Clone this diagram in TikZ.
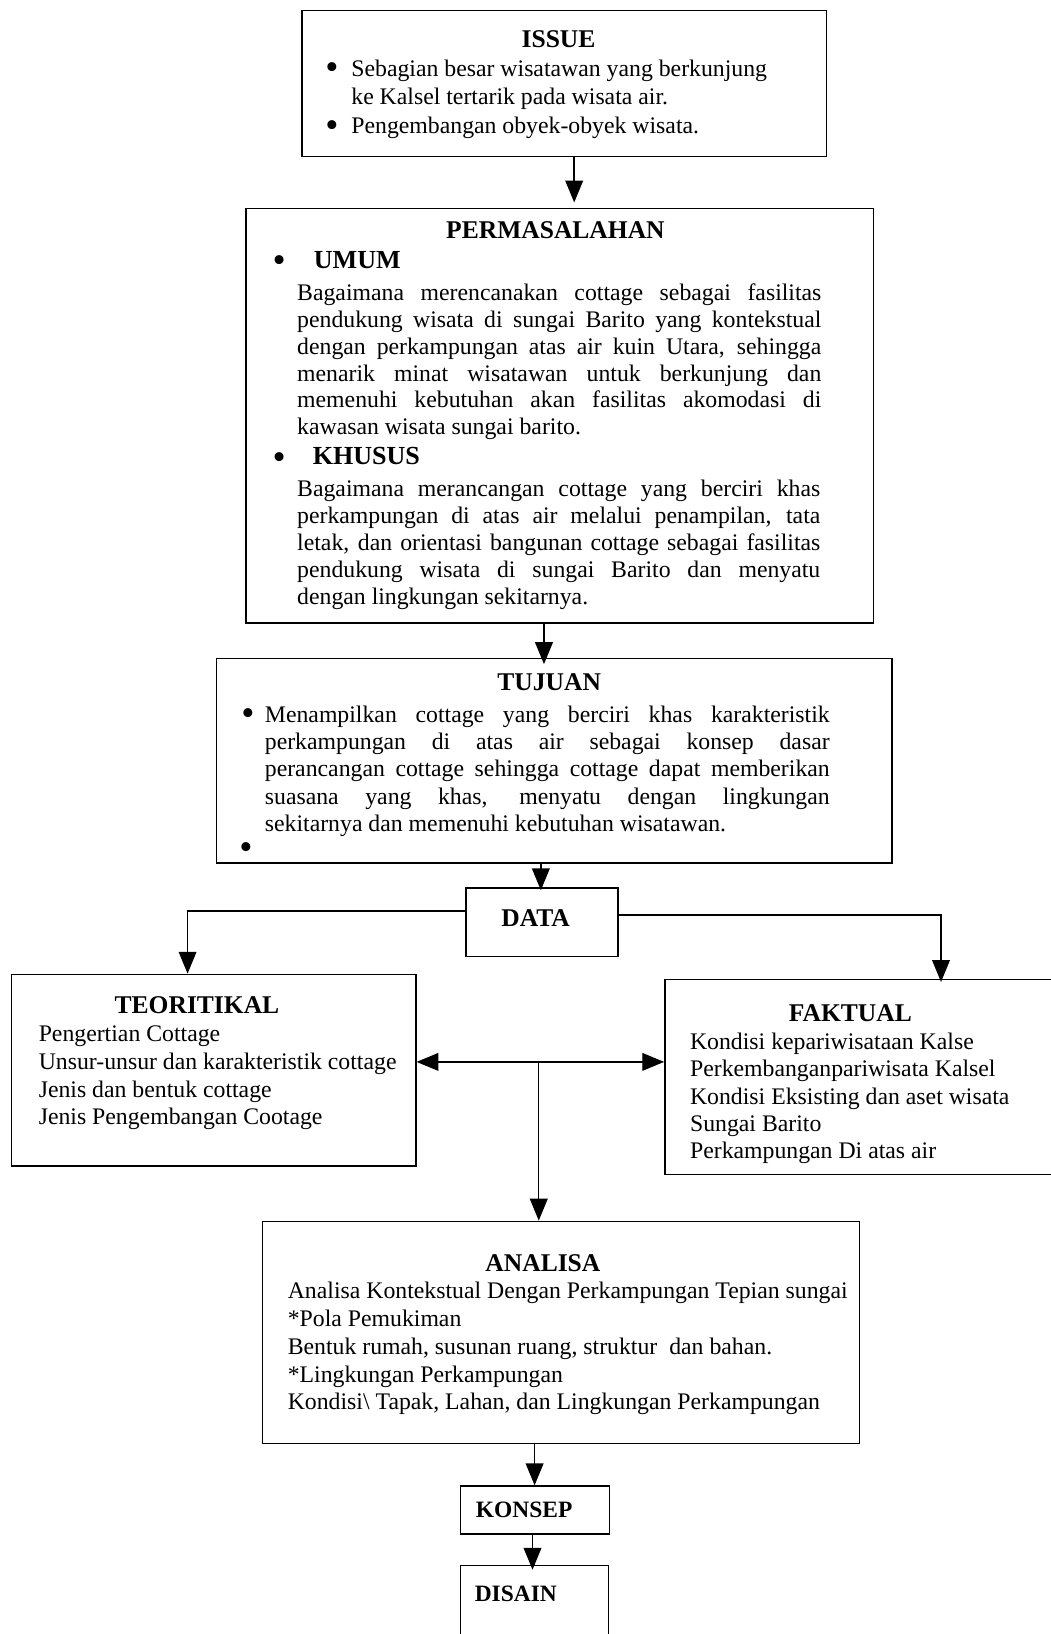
\documentclass[tikz,border=0pt]{standalone}
\usepackage{fontspec}
\setmainfont{Liberation Serif}
\usetikzlibrary{arrows.meta,positioning}
\newcommand{\jline}[2]{\makebox[#1][s]{#2}}
\newcommand{\bdot}{\raisebox{-3.5pt}{\fontsize{36}{26}\selectfont\textbullet}}
\tikzset{
  flowbox/.style={draw,line width=1.4pt,rectangle,inner sep=0pt},
  boxtitle/.style={font=\fontsize{24.5}{28}\selectfont\bfseries,inner sep=0pt},
  smalltitle/.style={font=\fontsize{22.5}{26}\selectfont\bfseries,inner sep=0pt},
  subtitle/.style={font=\fontsize{25}{28}\selectfont\bfseries,inner sep=0pt,anchor=west},
  boxtext/.style={font=\fontsize{22.8}{26.3}\selectfont,align=left,inner sep=0pt,anchor=north west},
  dotmark/.style={font=\fontsize{22}{26}\selectfont,inner sep=0pt},
  flowarrow/.style={-{Triangle[length=21pt,width=17pt]},line width=1.4pt},
  dblarrow/.style={{Triangle[length=21pt,width=17pt]}-{Triangle[length=21pt,width=17pt]},line width=1.4pt}
}

\begin{document}
\begin{tikzpicture}[x=1pt,y=-1pt]
\useasboundingbox (0,0) rectangle (1008,1568);
% boxes
\node[flowbox,minimum width=503pt,minimum height=140pt] (issue) at (541.5,80) {};
\node[flowbox,minimum width=602pt,minimum height=398pt] (perm) at (537,399) {};
\node[flowbox,minimum width=648pt,minimum height=196pt] (tujuan) at (532,730) {};
\node[flowbox,minimum width=146pt,minimum height=66pt] (data) at (520,885) {};
\node[flowbox,minimum width=388pt,minimum height=184pt] (teori) at (205,1027) {};
\node[flowbox,minimum width=387pt,minimum height=187pt] (fakta) at (831.5,1033.5) {};
\node[flowbox,minimum width=573pt,minimum height=213pt] (analisa) at (538.5,1278.5) {};
\node[flowbox,minimum width=143pt,minimum height=46pt] (konsep) at (513.5,1449) {};
\node[flowbox,minimum width=142pt,minimum height=98pt] (disain) at (513,1551) {};

% issue
\node[boxtitle] (issuet) at (536,38) {ISSUE};
\node[boxtext,font=\fontsize{22.8}{27.5}\selectfont] (issueb) at (312,57)
  {\makebox[25pt][l]{\bdot}Sebagian besar wisatawan yang berkunjung\\
   \hspace*{25pt}ke Kalsel tertarik pada wisata air.\\
   \makebox[25pt][l]{\bdot}Pengembangan obyek-obyek wisata.};

% permasalahan
\node[boxtitle] (permt) at (533,221) {PERMASALAHAN};
\node[dotmark] (umumd) at (268,253) {\bdot};
\node[subtitle] (umum) at (301,250) {UMUM};
\node[boxtext,font=\fontsize{22.8}{25.8}\selectfont] (umumb) at (285,272)
  {\jline{503pt}{Bagaimana merencanakan cottage sebagai fasilitas}\\
   \jline{503pt}{pendukung wisata di sungai Barito yang kontekstual}\\
   \jline{503pt}{dengan perkampungan atas air kuin Utara, sehingga}\\
   \jline{503pt}{menarik minat wisatawan untuk berkunjung dan}\\
   \jline{503pt}{memenuhi kebutuhan akan fasilitas akomodasi di}\\
   kawasan wisata sungai barito.};
\node[dotmark] (khususd) at (268,442) {\bdot};
\node[subtitle] (khusus) at (300,438) {KHUSUS};
\node[boxtext,font=\fontsize{22.8}{26}\selectfont] (khususb) at (285,460)
  {\jline{502pt}{Bagaimana merancangan cottage yang berciri khas}\\
   \jline{502pt}{perkampungan di atas air melalui penampilan, tata}\\
   \jline{502pt}{letak, dan orientasi bangunan cottage sebagai fasilitas}\\
   \jline{502pt}{pendukung wisata di sungai Barito dan menyatu}\\
   dengan lingkungan sekitarnya.};

% tujuan
\node[boxtitle] (tujuant) at (527,655) {TUJUAN};
\node[dotmark] (tujuand) at (238,688) {\bdot};
\node[boxtext,font=\fontsize{22.8}{26.25}\selectfont] (tujuanb) at (254,677)
  {\jline{542pt}{Menampilkan cottage yang berciri khas karakteristik}\\
   \jline{542pt}{perkampungan di atas air sebagai konsep dasar}\\
   \jline{542pt}{perancangan cottage sehingga cottage dapat memberikan}\\
   \jline{542pt}{suasana yang khas, menyatu dengan lingkungan}\\
   sekitarnya dan memenuhi kebutuhan wisatawan.};
\node[dotmark] (tujuane) at (236,817) {\bdot};

% data
\node[boxtitle] (datat) at (514,881) {DATA};
\node[boxtitle] (teorit) at (189,965) {TEORITIKAL};
\node[boxtext,font=\fontsize{22.8}{26.7}\selectfont] (teorib) at (37,984)
  {Pengertian Cottage\\
   Unsur-unsur dan karakteristik cottage\\
   Jenis dan bentuk cottage\\
   Jenis Pengembangan Cootage};
\node[boxtitle] (faktat) at (816,972) {FAKTUAL};
\node[boxtext,font=\fontsize{22.8}{26.25}\selectfont] (faktab) at (662,991)
  {Kondisi kepariwisataan Kalse\\
   Perkembanganpariwisata Kalsel\\
   Kondisi Eksisting dan aset wisata\\
   Sungai Barito\\
   Perkampungan Di atas air};

% analisa
\node[boxtitle] (analisat) at (521,1212) {ANALISA};
\node[boxtext,font=\fontsize{22.8}{26.75}\selectfont] (analisab) at (276,1230)
  {Analisa Kontekstual Dengan Perkampungan Tepian sungai\\
   *Pola Pemukiman\\
   Bentuk rumah, susunan ruang, struktur\ \ dan bahan.\\
   *Lingkungan Perkampungan\\
   Kondisi\textbackslash\ Tapak, Lahan, dan Lingkungan Perkampungan};

\node[smalltitle] (konsept) at (503,1449) {KONSEP};
\node[smalltitle] (disaint) at (495,1529) {DISAIN};

% connectors
\coordinate (a1) at (551,0);
\coordinate (a2) at (522,0);
\coordinate (a3) at (519,0);
\coordinate (a4) at (180,0);
\coordinate (a5) at (903,0);
\coordinate (a6) at (0,1019);
\coordinate (a7) at (517,1019);
\coordinate (a8) at (513,0);
\coordinate (a9) at (511,0);
\draw[flowarrow,shorten >=5pt] (issue.south -| a1) -- (perm.north -| a1);
\draw[flowarrow,shorten >=-6pt] (perm.south -| a2) -- (tujuan.north -| a2);
\draw[flowarrow,shorten >=-3pt] (tujuan.south -| a3) -- (data.north -| a3);
\draw[flowarrow] ([yshift=11pt]data.west) -| (teori.north -| a4);
\draw[flowarrow,shorten >=-3pt] ([yshift=7pt]data.east) -| (fakta.north -| a5);
\draw[dblarrow] (teori.east |- a6) -- (fakta.west |- a6);
\draw[flowarrow] (a7) -- (analisa.north -| a7);
\draw[flowarrow] (analisa.south -| a8) -- (konsep.north -| a8);
\draw[flowarrow,shorten >=-5pt] (konsep.south -| a9) -- (disain.north -| a9);
\end{tikzpicture}
\end{document}
